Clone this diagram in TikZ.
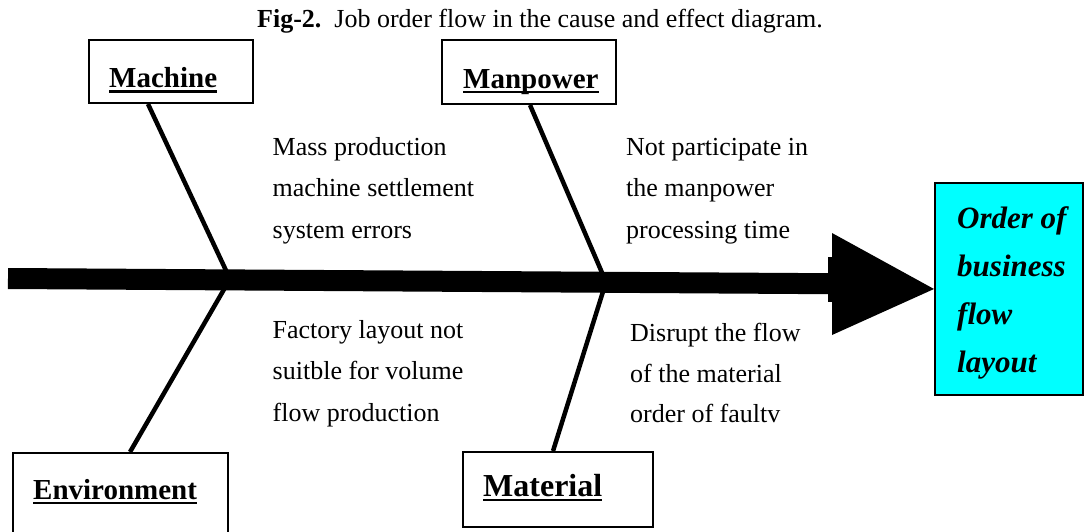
\documentclass[tikz,border=0pt]{standalone}
\usepackage{fontspec}
\setmainfont{Liberation Serif}
\definecolor{aqua}{RGB}{0,255,255}
\begin{document}
\begin{tikzpicture}[x=1pt,y=-1pt,
  box/.style={draw, line width=2pt, inner sep=0pt, fill=white},
  lbl/.style={inner sep=0pt, anchor=base west, font=\bfseries\fontsize{29}{29}\selectfont},
  body/.style={inner sep=0pt, anchor=base west, font=\fontsize{26}{26}\selectfont},
  eff/.style={inner sep=0pt, anchor=base west, font=\bfseries\itshape\fontsize{31}{31}\selectfont},
  bone/.style={line width=4.5pt},
  ul/.style={line width=2.6pt}]
\useasboundingbox (0,0) rectangle (1091,532);
% title
\node[body] (title) at (257,28) {\textbf{Fig-2.}\ \ Job order flow in the cause and effect diagram.};
% junctions
\coordinate (j1) at (230,279);
\coordinate (j2) at (606,282);
\coordinate (tail) at (8,278.5);
\coordinate (head) at (830,283.7);
% bones
\coordinate (mb) at (148,104);
\coordinate (pb) at (530,105);
\coordinate (eb) at (130,452);
\coordinate (tb) at (553,451);
\draw[bone] (mb) -- (j1);
\draw[bone] (eb) -- (j1);
\draw[bone] (pb) -- (j2);
\draw[bone] (tb) -- (j2);
% spine
\draw[line width=21pt] (tail) -- (head);
\fill (828,257) rectangle (833,302);
\node[box, fill=aqua, minimum width=148pt, minimum height=212pt] (effect) at (1009,289) {};
\fill (832,233) -- (effect.west) -- (832,335) -- cycle;
% cause boxes
\node[box, minimum width=164pt, minimum height=63pt] (machinebox) at (171,71.5) {};
\node[box, minimum width=174pt, minimum height=64pt] (manpowerbox) at (529,72) {};
\node[box, minimum width=215pt, minimum height=107pt] (envbox) at (120.5,506.5) {};
\node[box, minimum width=190pt, minimum height=75pt] (matbox) at (558,489.5) {};
% labels
\node[lbl] (machine) at (109,88) {Machine};
\draw[ul] ([yshift=-3.5pt]machine.base west) -- ([yshift=-3.5pt]machine.base east);
\node[lbl] (manpower) at (463,88.5) {Manpower};
\draw[ul] ([yshift=-3.5pt]manpower.base west) -- ([yshift=-3.5pt]manpower.base east);
\node[lbl] (environment) at (33,499) {Environment};
\draw[ul] ([yshift=-4pt]environment.base west) -- ([yshift=-4pt]environment.base east);
\node[lbl, font=\bfseries\fontsize{32}{32}\selectfont] (material) at (483,496) {Material};
\draw[ul] ([yshift=-4pt]material.base west) -- ([yshift=-4pt]material.base east);
% effect text
\node[eff] (e1) at (957,228) {Order of};
\node[eff] (e2) at (957,276) {business};
\node[eff] (e3) at (957,324) {flow};
\node[eff] (e4) at (957,372) {layout};
% cause texts
\node[body] (a1) at (272.5,155) {Mass production};
\node[body] (a2) at (272.5,196.5) {machine settlement};
\node[body] (a3) at (272.5,238) {system errors};
\node[body] (b1) at (626,155) {Not participate in};
\node[body] (b2) at (626,196.5) {the manpower};
\node[body] (b3) at (626,238) {processing time};
\node[body] (c1) at (272.5,338) {Factory layout not};
\node[body] (c2) at (272.5,379.5) {suitble for volume};
\node[body] (c3) at (272.5,421) {flow production};
\node[body] (d1) at (630,341) {Disrupt the flow};
\node[body] (d2) at (630,382) {of the material};
\node[body] (d3) at (630,422) {order of faultv};
\end{tikzpicture}
\end{document}
